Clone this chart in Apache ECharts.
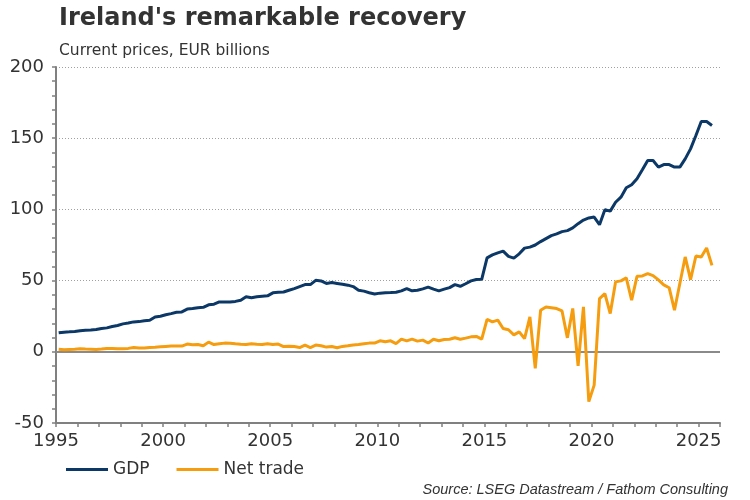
<!DOCTYPE html>
<html>
<head>
<meta charset="utf-8">
<script src="https://cdn.jsdelivr.net/npm/echarts@6/dist/echarts.min.js"></script>
<style>
html,body{margin:0;padding:0;background:#fff;}
#chart{width:750px;height:500px;}
</style>
</head>
<body>
<div id="chart"></div>
<script>
// Quarterly data, 1995 Q1 to 2025 Q3, EUR billions (current prices)
const startYear = 1995;
const gdp = [
  13.3, 13.8, 14.0, 14.3,
  14.8, 15.2, 15.3, 15.6,
  16.4, 16.8, 17.8, 18.5,
  19.6, 20.2, 21.0, 21.2,
  21.8, 22.2, 24.5, 25.0,
  26.0, 26.8, 27.8, 28.0,
  30.0, 30.4, 31.0, 31.2,
  33.0, 33.4, 35.0, 35.0,
  35.0, 35.4, 36.2, 38.6,
  38.0, 38.6, 39.0, 39.3,
  41.4, 41.8, 42.0, 43.2,
  44.4, 45.8, 47.2, 47.2,
  50.2, 49.8, 48.0, 48.6,
  48.0, 47.4, 46.8, 45.8,
  43.2, 42.6, 41.5, 40.6,
  41.2, 41.5, 41.6, 41.8,
  42.8, 44.4, 42.8, 43.2,
  44.2, 45.4, 44.0, 42.8,
  44.0, 45.1, 47.2, 46.0,
  47.8, 49.8, 50.8, 50.9,
  66.0, 68.1, 69.5, 70.7,
  67.0, 65.8, 68.8, 72.8,
  73.5, 75.0, 77.4, 79.5,
  81.6, 82.8, 84.4, 85.1,
  87.0, 90.0, 92.5, 94.0,
  94.6, 89.3, 99.8, 98.8,
  105.0, 108.6, 115.2, 117.3,
  121.5, 127.8, 134.3, 134.3,
  129.7, 131.5, 131.5, 129.7,
  129.7, 135.5, 142.5, 151.9,
  161.7, 161.7, 158.9
];
const netTrade = [
  1.8, 1.4, 1.6, 1.8,
  2.1, 1.9, 1.8, 1.6,
  1.9, 2.3, 2.4, 2.2,
  2.1, 2.4, 3.0, 2.6,
  2.6, 3.0, 3.2, 3.5,
  3.8, 4.0, 4.0, 4.0,
  5.4, 4.9, 5.1, 4.2,
  6.8, 5.1, 5.6, 6.1,
  6.0, 5.6, 5.3, 5.1,
  5.6, 5.3, 5.1, 5.6,
  5.1, 5.4, 3.7, 3.9,
  3.7, 3.0, 4.7, 3.0,
  4.7, 4.2, 3.3, 3.7,
  2.8, 3.8, 4.2, 4.8,
  5.1, 5.6, 6.1, 6.1,
  7.7, 7.0, 7.7, 5.8,
  8.9, 7.7, 8.9, 7.5,
  8.2, 6.2, 8.8, 7.8,
  8.6, 8.8, 9.9, 8.8,
  9.6, 10.5, 10.8, 8.9,
  22.7, 21.0, 22.2, 16.4,
  15.5, 11.9, 14.0, 9.3,
  24.5, -11.7, 29.2, 31.5,
  31.0, 30.4, 28.7, 9.8,
  30.4, -9.8, 31.5, -35.0,
  -23.4, 37.4, 40.9, 26.9,
  49.1, 49.8, 51.9, 36.2,
  53.0, 53.3, 54.9, 53.5,
  50.5, 47.0, 45.0, 29.2,
  48.0, 66.6, 50.7, 67.3,
  66.6, 72.9, 60.7
];
const seriesNames = ['GDP', 'Net trade'];
const xTickLabels = [1995, 2000, 2005, 2010, 2015, 2020, 2025];
const yTickLabels = [-50, 0, 50, 100, 150, 200];

// quarter i sits at the middle of its quarter on the year axis
const quarterPos = i => startYear + Math.floor(i / 4) + ((i % 4) + 0.5) / 4;
const toPairs = arr => arr.map((v, i) => [quarterPos(i), v]);

const FONT = 'DejaVu Sans';
const TXT = '#333333';
const AXIS = '#808080';

const chart = echarts.init(document.getElementById('chart'), null, {renderer: 'canvas'});
chart.setOption({
  animation: false,
  backgroundColor: '#ffffff',
  title: [
    {
      text: "Ireland's remarkable recovery",
      left: 54, top: 2,
      textStyle: {fontFamily: FONT, fontSize: 24, fontWeight: 'bold', color: TXT}
    },
    {
      text: 'Current prices, EUR billions',
      left: 54, top: 38,
      textStyle: {fontFamily: FONT, fontSize: 15.5, fontWeight: 'normal', color: TXT}
    },
    {
      text: 'Source: LSEG Datastream / Fathom Consulting',
      right: 17, top: 477,
      textStyle: {fontFamily: 'Liberation Sans', fontSize: 14.5, fontStyle: 'italic', fontWeight: 'normal', color: TXT}
    }
  ],
  legend: {
    data: seriesNames,
    left: 61, top: 456,
    icon: 'rect',
    itemWidth: 42, itemHeight: 3,
    itemGap: 27,
    textStyle: {fontFamily: FONT, fontSize: 17, color: TXT}
  },
  grid: {left: 56, right: 30, top: 67, bottom: 77, containLabel: false},
  xAxis: {
    type: 'value',
    min: 1995, max: 2026, interval: 1,
    axisLine: {show: true, onZero: false, lineStyle: {color: AXIS, width: 2}},
    axisTick: {show: true, length: 4, lineStyle: {color: AXIS, width: 1.5}},
    axisLabel: {
      fontFamily: FONT, fontSize: 18, color: TXT, margin: 9,
      formatter: v => xTickLabels.includes(v) ? String(v) : ''
    },
    splitLine: {show: false}
  },
  yAxis: {
    type: 'value',
    min: -50, max: 200, interval: 50,
    axisLine: {show: true, onZero: false, lineStyle: {color: AXIS, width: 2}},
    axisTick: {show: true, length: 4, lineStyle: {color: AXIS, width: 1.5}},
    minorTick: {show: true, splitNumber: 5, length: 4, lineStyle: {color: AXIS, width: 1.5}},
    axisLabel: {
      fontFamily: FONT, fontSize: 18, color: TXT, margin: 12,
      formatter: v => yTickLabels.includes(v) ? String(v) : ''
    },
    splitLine: {show: true, lineStyle: {color: '#a0a0a0', type: [1, 2], width: 1}}
  },
  series: [
    {
      name: seriesNames[0],
      type: 'line',
      data: toPairs(gdp),
      showSymbol: false,
      symbol: 'none',
      lineStyle: {color: '#0b3866', width: 3},
      itemStyle: {color: '#0b3866'},
      z: 3,
      markLine: {
        silent: true,
        symbol: 'none',
        label: {show: false},
        lineStyle: {color: '#8a8a8a', type: 'solid', width: 2},
        data: [{yAxis: 0}],
        z: 1
      }
    },
    {
      name: seriesNames[1],
      type: 'line',
      data: toPairs(netTrade),
      showSymbol: false,
      symbol: 'none',
      lineStyle: {color: '#f59d0e', width: 3},
      itemStyle: {color: '#f59d0e'},
      z: 4
    }
  ]
});
</script>
</body>
</html>
